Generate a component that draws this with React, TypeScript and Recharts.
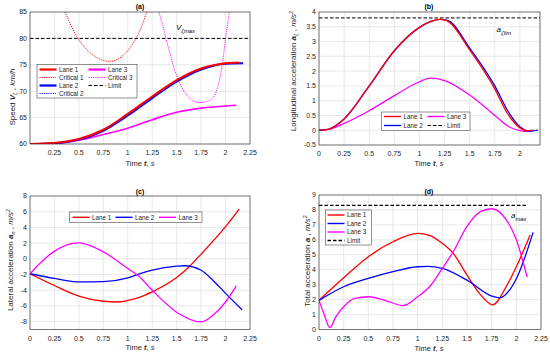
import React from "react";
import { LineChart, Line, XAxis, YAxis, CartesianGrid } from "recharts";

const FONT = "'Liberation Sans', Arial, Helvetica, sans-serif";
const RED = "#ff0000";
const BLUE = "#0000ff";
const MAGENTA = "#ff00ff";
const INK = "#262626";
const GRID = "#e0e0e0";

// (a) speed, km/h
const tSpeed1 = [0, 0.25, 0.5, 0.75, 1.0, 1.25, 1.5, 1.75, 2.0, 2.14];
const speedLane1 = [60, 60.2, 60.95, 62.7, 65.7, 69.0, 72.1, 74.3, 75.3, 75.45];
const tSpeed2 = [0, 0.25, 0.5, 0.75, 1.0, 1.25, 1.5, 1.75, 2.0, 2.18];
const speedLane2 = [60, 60.15, 60.85, 62.5, 65.4, 68.7, 71.8, 74.1, 75.2, 75.3];
const tSpeed3 = [0, 0.25, 0.5, 0.75, 1.0, 1.25, 1.5, 1.75, 2.0, 2.11];
const speedLane3 = [60, 60.1, 60.7, 61.8, 63.0, 64.6, 66.0, 66.8, 67.2, 67.35];
const tCrit1 = [0.32, 0.36, 0.42, 0.49, 0.55, 0.62, 0.7, 0.81, 0.9, 0.97, 1.03, 1.085, 1.14, 1.19, 1.23];
const critical1 = [87, 85, 82.4, 80, 78.5, 77.2, 76.2, 75.65, 76.1, 77.1, 78.4, 80, 82.2, 84.8, 87];
const tCrit3 = [1.3, 1.32, 1.36, 1.39, 1.44, 1.48, 1.53, 1.59, 1.66, 1.74, 1.8, 1.87, 1.93, 1.97, 2.0, 2.04, 2.06];
const critical3 = [87, 85, 82.3, 80, 76.6, 74.0, 71.6, 69.6, 68.3, 67.85, 68.0, 68.7, 71.5, 75.5, 80, 85, 87.5];
const speedLimit = 80;

// (b) longitudinal acceleration
const tLong1 = [0, 0.1, 0.25, 0.5, 0.75, 1.0, 1.13, 1.2, 1.27, 1.5, 1.75, 1.87, 2.0, 2.07, 2.14];
const longLane1 = [0, 0.04, 0.38, 1.5, 2.69, 3.48, 3.7, 3.75, 3.71, 2.72, 1.4, 0.6, 0.08, -0.02, 0];
const tLong2 = [0, 0.1, 0.25, 0.5, 0.75, 1.0, 1.13, 1.21, 1.28, 1.5, 1.75, 1.88, 2.0, 2.1, 2.18];
const longLane2 = [0, 0.04, 0.38, 1.5, 2.69, 3.48, 3.7, 3.75, 3.72, 2.78, 1.5, 0.65, 0.12, -0.03, 0];
const tLong3 = [0, 0.1, 0.25, 0.5, 0.75, 1.0, 1.11, 1.25, 1.5, 1.75, 1.9, 2.0, 2.07, 2.12];
const longLane3 = [0, 0.03, 0.23, 0.66, 1.17, 1.64, 1.76, 1.68, 1.19, 0.5, 0.1, -0.01, -0.04, -0.03];
const longLimit = 3.8;

// (c) lateral acceleration
const tLat1 = [0, 0.25, 0.5, 0.75, 0.9, 1.0, 1.11, 1.25, 1.5, 1.62, 1.75, 2.0, 2.14];
const latLane1 = [-1.9, -3.4, -4.75, -5.4, -5.5, -5.3, -4.94, -4.2, -2.38, -1.1, 0.6, 4.1, 6.34];
const tLat2 = [0, 0.25, 0.5, 0.75, 1.0, 1.11, 1.25, 1.5, 1.58, 1.75, 1.87, 2.0, 2.17];
const latLane2 = [-1.9, -2.5, -2.94, -2.9, -2.43, -1.95, -1.45, -0.94, -0.88, -1.45, -2.72, -4.4, -6.5];
const tLat3 = [0, 0.1, 0.25, 0.5, 0.75, 1.0, 1.11, 1.25, 1.5, 1.75, 1.87, 2.0, 2.11];
const latLane3 = [-1.9, -0.6, 0.98, 2.04, 0.89, -1.23, -2.2, -4.0, -6.8, -8.04, -7.2, -5.5, -3.45];

// (d) total acceleration
const tTot1 = [0, 0.25, 0.5, 0.75, 1.0, 1.12, 1.25, 1.36, 1.5, 1.64, 1.76, 1.9, 2.0, 2.14];
const totLane1 = [1.95, 3.46, 4.87, 5.87, 6.43, 6.3, 5.76, 5.1, 3.64, 2.3, 1.65, 2.9, 4.2, 6.32];
const tTot2 = [0, 0.25, 0.5, 0.75, 1.0, 1.1, 1.25, 1.5, 1.75, 1.83, 2.0, 2.17];
const totLane2 = [1.95, 2.86, 3.42, 3.87, 4.2, 4.22, 4.09, 3.3, 2.24, 2.12, 3.4, 6.5];
const tTot3 = [0, 0.05, 0.11, 0.17, 0.25, 0.36, 0.5, 0.66, 0.85, 1.0, 1.12, 1.25, 1.36, 1.5, 1.64, 1.75, 1.86, 2.0, 2.11];
const totLane3 = [1.95, 1.05, 0.12, 0.85, 1.52, 2.08, 2.19, 1.97, 1.6, 2.19, 2.86, 4.09, 5.2, 6.9, 7.9, 8.08, 7.66, 6.0, 3.5];
const totLimit = 8.3;

const xTicksA = [0.25, 0.5, 0.75, 1, 1.25, 1.5, 1.75, 2, 2.25];
const xTicksB = [0, 0.25, 0.5, 0.75, 1, 1.25, 1.5, 1.75, 2];
const xTicksCD = [0, 0.25, 0.5, 0.75, 1, 1.25, 1.5, 1.75, 2, 2.25];
const yTicksA = [60, 65, 70, 75, 80, 85];
const yTicksB = [-0.5, 0, 0.5, 1, 1.5, 2, 2.5, 3, 3.5, 4];
const yTicksC = [-8, -6, -4, -2, 0, 2, 4, 6, 8];
const yTicksD = [0, 1, 2, 3, 4, 5, 6, 7, 8, 9];

const pts = (t: number[], v: number[]) => t.map((x, i) => ({ t: x, v: v[i] }));

const panels = {
  a: { left: 0, top: 0, width: 275, height: 176, margin: { top: 12, right: 25, bottom: 32, left: 30 } },
  b: { left: 275, top: 0, width: 275, height: 176, margin: { top: 12, right: 10, bottom: 31, left: 44 } },
  c: { left: 0, top: 176, width: 275, height: 177, margin: { top: 20, right: 25, bottom: 23.5, left: 30 } },
  d: { left: 275, top: 176, width: 275, height: 177, margin: { top: 19, right: 9, bottom: 23.5, left: 44 } },
};

const tickStyle = { fontSize: 7, fill: INK, fontFamily: FONT };

function Panel({ p, xDomain, xTicks, yDomain, yTicks, children }: any) {
  const m = p.margin;
  return (
    <div style={{ position: "absolute", left: p.left, top: p.top }}>
      <LineChart width={p.width} height={p.height} margin={{ top: m.top, right: m.right, bottom: 0, left: 0 }}>
        <CartesianGrid stroke={GRID} strokeWidth={0.7} />
        <XAxis
          type="number"
          dataKey="t"
          domain={xDomain}
          ticks={xTicks}
          interval={0}
          allowDataOverflow
          height={m.bottom}
          tickSize={0}
          tickMargin={6.5}
          axisLine={false}
          tickLine={false}
          tick={tickStyle}
        />
        <YAxis
          type="number"
          dataKey="v"
          domain={yDomain}
          ticks={yTicks}
          interval={0}
          allowDataOverflow
          width={m.left}
          tickSize={0}
          tickMargin={3}
          axisLine={false}
          tickLine={false}
          tick={tickStyle}
        />
        {children}
      </LineChart>
    </div>
  );
}

const series = (key: string, data: any[], color: string, width: number, dash?: string) => (
  <Line
    key={key}
    data={data}
    dataKey="v"
    type="monotone"
    stroke={color}
    strokeWidth={width}
    strokeDasharray={dash}
    dot={false}
    activeDot={false}
    isAnimationActive={false}
  />
);

function PlotBox({ p }: any) {
  const x = p.left + p.margin.left;
  const y = p.top + p.margin.top;
  const w = p.width - p.margin.left - p.margin.right;
  const h = p.height - p.margin.top - p.margin.bottom;
  return <rect x={x} y={y} width={w} height={h} fill="none" stroke={INK} strokeWidth={0.6} />;
}

function LegendItem({ x, y, color, width, dash, label }: any) {
  return (
    <g>
      <line x1={x} x2={x + 17} y1={y} y2={y} stroke={color} strokeWidth={width} strokeDasharray={dash} />
      <text x={x + 19.5} y={y + 2.2} fontSize={6.3} fill={INK}>{label}</text>
    </g>
  );
}

function LegendBox({ x, y, w, h }: any) {
  return <rect x={x} y={y} width={w} height={h} fill="#ffffff" stroke={INK} strokeWidth={0.5} />;
}

const XLabel = ({ x, y }: any) => (
  <text x={x} y={y} textAnchor="middle" fontSize={7.5} fill={INK}>
    Time <tspan fontWeight="bold" fontStyle="italic">t</tspan>, <tspan fontStyle="italic">s</tspan>
  </text>
);

const Title = ({ x, y, label }: any) => (
  <text x={x} y={y} textAnchor="middle" fontSize={7} fontWeight="bold" fill="#000">{label}</text>
);

function Overlay() {
  return (
    <svg
      width={550}
      height={353}
      style={{ position: "absolute", left: 0, top: 0, pointerEvents: "none", fontFamily: FONT }}
    >
      <PlotBox p={panels.a} />
      <PlotBox p={panels.b} />
      <PlotBox p={panels.c} />
      <PlotBox p={panels.d} />

      <Title x={140} y={8.5} label="(a)" />
      <Title x={429} y={8.5} label="(b)" />
      <Title x={140} y={193.5} label="(c)" />
      <Title x={429} y={194} label="(d)" />

      <XLabel x={140} y={166} />
      <XLabel x={429} y={166} />
      <XLabel x={140} y={349.5} />
      <XLabel x={429} y={350.5} />

      <text transform="translate(14.5,97) rotate(-90)" textAnchor="middle" fontSize={8} fill={INK}>
        Speed <tspan fontWeight="bold" fontStyle="italic">V</tspan>
        <tspan fontSize={5.5} dy={2}>ζ</tspan>
        <tspan dy={-2}> , </tspan>
        <tspan fontStyle="italic">km/h</tspan>
      </text>
      <text transform="translate(296,71) rotate(-90)" textAnchor="middle" fontSize={8} fill={INK}>
        Longitudinal acceleration <tspan fontWeight="bold" fontStyle="italic">a</tspan>
        <tspan fontSize={5.5} dy={2}>ζ</tspan>
        <tspan dy={-2}> , </tspan>
        <tspan fontStyle="italic">m/s</tspan>
        <tspan fontSize={5.5} dy={-3}>2</tspan>
      </text>
      <text transform="translate(13,260) rotate(-90)" textAnchor="middle" fontSize={8} fill={INK}>
        Lateral acceleration <tspan fontWeight="bold" fontStyle="italic">a</tspan>
        <tspan fontSize={5.5} dy={2} fontStyle="italic">n</tspan>
        <tspan dy={-2}> , </tspan>
        <tspan fontStyle="italic">m/s</tspan>
        <tspan fontSize={5.5} dy={-3}>2</tspan>
      </text>
      <text transform="translate(309.5,261) rotate(-90)" textAnchor="middle" fontSize={8} fill={INK}>
        Total acceleration <tspan fontWeight="bold" fontStyle="italic">a</tspan>
        <tspan> , </tspan>
        <tspan fontStyle="italic">m/s</tspan>
        <tspan fontSize={5.5} dy={-3}>2</tspan>
      </text>

      <text x={176} y={29.7} fontSize={8} fontStyle="italic" fill="#000">
        V<tspan fontSize={5.8} dy={3.3}>ζmax</tspan>
      </text>
      <text x={496.5} y={31.5} fontSize={8} fontStyle="italic" fill="#000">
        a<tspan fontSize={5.8} dy={3}>ζlim</tspan>
      </text>
      <text x={511} y={217.5} fontSize={8} fontStyle="italic" fill="#000">
        a<tspan fontSize={5.8} dy={3.3}>max</tspan>
      </text>

      <LegendBox x={37} y={64.5} w={100} h={33.5} />
      <LegendItem x={39.5} y={69.5} color={RED} width={2.2} label="Lane 1" />
      <LegendItem x={39.5} y={77.5} color={RED} width={0.9} dash="1.2 1" label="Critical 1" />
      <LegendItem x={39.5} y={85.5} color={BLUE} width={2.2} label="Lane 2" />
      <LegendItem x={39.5} y={93.5} color={BLUE} width={0.9} dash="1.2 1" label="Critical 2" />
      <LegendItem x={88.5} y={69.5} color={MAGENTA} width={2.2} label="Lane 3" />
      <LegendItem x={88.5} y={77.5} color={MAGENTA} width={0.9} dash="1.2 1" label="Critical 3" />
      <LegendItem x={88.5} y={85.5} color="#000" width={1} dash="3.5 2" label="Limit" />

      <LegendBox x={381.5} y={112} w={88.5} h={18.5} />
      <LegendItem x={384} y={116.5} color={RED} width={1.4} label="Lane 1" />
      <LegendItem x={384} y={125.5} color={BLUE} width={1.4} label="Lane 2" />
      <LegendItem x={427.5} y={116.5} color={MAGENTA} width={1.4} label="Lane 3" />
      <LegendItem x={427.5} y={125.5} color="#000" width={1} dash="3.5 2" label="Limit" />

      <LegendBox x={69.5} y={212} w={132.5} h={10.5} />
      <LegendItem x={72.5} y={217.3} color={RED} width={1.4} label="Lane 1" />
      <LegendItem x={115.5} y={217.3} color={BLUE} width={1.4} label="Lane 2" />
      <LegendItem x={159} y={217.3} color={MAGENTA} width={1.4} label="Lane 3" />

      <LegendBox x={325.5} y={210} w={46} h={35} />
      <LegendItem x={327.5} y={215} color={RED} width={1.4} label="Lane 1" />
      <LegendItem x={327.5} y={223.5} color={BLUE} width={1.4} label="Lane 2" />
      <LegendItem x={327.5} y={232} color={MAGENTA} width={1.4} label="Lane 3" />
      <LegendItem x={327.5} y={240.5} color="#000" width={1.4} dash="3.5 2" label="Limit" />
    </svg>
  );
}

export default function App() {
  return (
    <div style={{ position: "absolute", left: 0, top: 0, width: 550, height: 353, background: "#fff", fontFamily: FONT }}>
      <Panel p={panels.a} xDomain={[0, 2.25]} xTicks={xTicksA} yDomain={[60, 85]} yTicks={yTicksA}>
        {series("lim", pts([0, 2.25], [speedLimit, speedLimit]), "#000", 1, "3.5 2")}
        {series("c1", pts(tCrit1, critical1), RED, 0.9, "1.2 1")}
        {series("c3", pts(tCrit3, critical3), MAGENTA, 0.9, "1.2 1")}
        {series("l3", pts(tSpeed3, speedLane3), MAGENTA, 1.6)}
        {series("l2", pts(tSpeed2, speedLane2), BLUE, 2)}
        {series("l1", pts(tSpeed1, speedLane1), RED, 2)}
      </Panel>
      <Panel p={panels.b} xDomain={[0, 2.2]} xTicks={xTicksB} yDomain={[-0.5, 4]} yTicks={yTicksB}>
        {series("lim", pts([0, 2.2], [longLimit, longLimit]), "#000", 1, "3.5 2")}
        {series("l3", pts(tLong3, longLane3), MAGENTA, 1.3)}
        {series("l2", pts(tLong2, longLane2), BLUE, 1.3)}
        {series("l1", pts(tLong1, longLane1), RED, 1.3)}
      </Panel>
      <Panel p={panels.c} xDomain={[0, 2.25]} xTicks={xTicksCD} yDomain={[-9, 8]} yTicks={yTicksC}>
        {series("l1", pts(tLat1, latLane1), RED, 1.3)}
        {series("l2", pts(tLat2, latLane2), BLUE, 1.3)}
        {series("l3", pts(tLat3, latLane3), MAGENTA, 1.3)}
      </Panel>
      <Panel p={panels.d} xDomain={[0, 2.25]} xTicks={xTicksCD} yDomain={[0, 9]} yTicks={yTicksD}>
        {series("lim", pts([0, 2.11], [totLimit, totLimit]), "#000", 1.3, "3.5 2")}
        {series("l1", pts(tTot1, totLane1), RED, 1.3)}
        {series("l2", pts(tTot2, totLane2), BLUE, 1.3)}
        {series("l3", pts(tTot3, totLane3), MAGENTA, 1.3)}
      </Panel>
      <Overlay />
    </div>
  );
}
